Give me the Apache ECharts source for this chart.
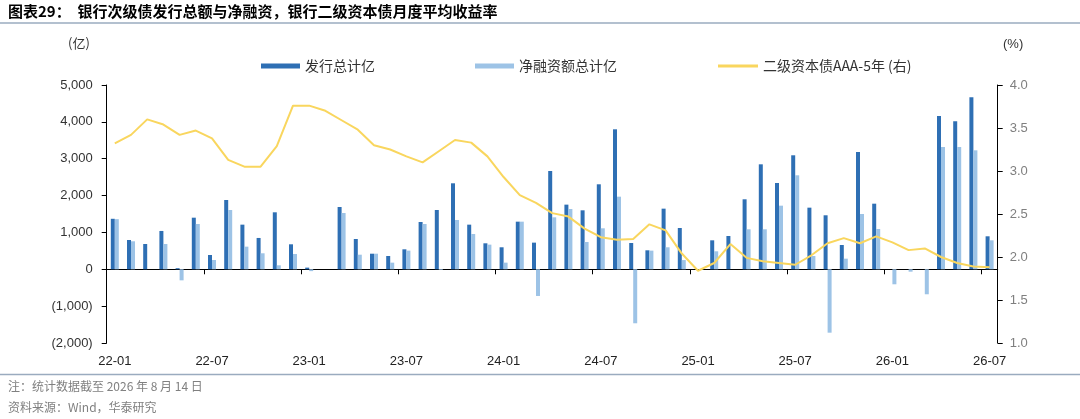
<!DOCTYPE html>
<html>
<head>
    <meta charset="utf-8">
    <title>银行次级债发行总额与净融资</title>
    <script src="https://cdn.jsdelivr.net/npm/echarts@6/dist/echarts.min.js"></script>
    <style>
        html, body { margin: 0; padding: 0; background: #fff; }
        #main { width: 1080px; height: 419px; }
    </style>
</head>
<body>
<div id="main"></div>
<script type="text/javascript">
// 月份
var months = [
    '22-01','22-02','22-03','22-04','22-05','22-06','22-07','22-08','22-09','22-10','22-11','22-12',
    '23-01','23-02','23-03','23-04','23-05','23-06','23-07','23-08','23-09','23-10','23-11','23-12',
    '24-01','24-02','24-03','24-04','24-05','24-06','24-07','24-08','24-09','24-10','24-11','24-12',
    '25-01','25-02','25-03','25-04','25-05','25-06','25-07','25-08','25-09','25-10','25-11','25-12',
    '26-01','26-02','26-03','26-04','26-05','26-06','26-07'
];
// 发行总计（亿）
var issue = [
    1370, 795, 686, 1040, 30, 1400, 388, 1880, 1211, 850, 1546, 678,
    45, 0, 1690, 822, 423, 361, 542, 1283, 1609, 2333, 1211, 705,
    597, 1292, 723, 2667, 1754, 1600, 2306, 3798, 714, 515, 1645, 1120,
    0, 786, 903, 1899, 2848, 2341, 3093, 1672, 1465, 659, 3182, 1780,
    0, 0, 0, 4159, 4015, 4666, 895
];
// 净融资额总计（亿）
var netFinance = [
    1360, 760, 0, 686, -300, 1229, 252, 1609, 614, 434, 108, 415,
    -50, 0, 1527, 396, 423, 180, 506, 1229, -20, 1337, 958, 669,
    180, 1292, -724, 1410, 1636, 741, 1112, 1970, -1465, 506, 597, 250,
    0, 488, 0, 1085, 1085, 1726, 2550, 361, -1720, 288, 1500, 1093,
    -407, -65, -678, 3318, 3318, 3228, 786
];
// 二级资本债AAA-5年收益率（%）
var yield5y = [
    3.32, 3.42, 3.60, 3.54, 3.42, 3.47, 3.38, 3.13, 3.05, 3.05, 3.29, 3.76,
    3.76, 3.70, 3.59, 3.48, 3.30, 3.25, 3.17, 3.10, 3.23, 3.36, 3.33, 3.17,
    2.93, 2.72, 2.63, 2.51, 2.47, 2.33, 2.23, 2.20, 2.21, 2.38, 2.31, 2.04,
    1.84, 1.93, 2.15, 1.99, 1.95, 1.93, 1.91, 2.02, 2.16, 2.22, 2.16, 2.24,
    2.17, 2.08, 2.10, 2.00, 1.93, 1.89, 1.88
];

var cjk = '"Noto Sans CJK SC", sans-serif';
var latin = '"Liberation Sans", Arial, sans-serif';

function fmtThousand(v) {
    return String(Math.abs(v)).replace(/\B(?=(\d{3})+(?!\d))/g, ',');
}

var myChart = echarts.init(document.getElementById('main'));

var option = {
    backgroundColor: '#fff',
    animation: false,
    graphic: [
        { type: 'text', left: 8, top: 4, style: { text: '图表29：  银行次级债发行总额与净融资，银行二级资本债月度平均收益率', font: 'bold 15px ' + cjk, fill: '#000' } },
        { type: 'line', shape: { x1: 0, y1: 23, x2: 1080, y2: 23 }, style: { stroke: '#9aabbf', lineWidth: 1.5 } },
        { type: 'text', left: 68, top: 37, style: { text: '(亿)', font: '13px ' + cjk, fill: '#333' } },
        { type: 'text', left: 1003, top: 38, style: { text: '(%)', font: '13px ' + latin, fill: '#333' } },
        { type: 'line', shape: { x1: 0, y1: 374.5, x2: 1080, y2: 374.5 }, style: { stroke: '#9aabbf', lineWidth: 1.5 } },
        { type: 'text', left: 8, top: 380, style: { text: '注：统计数据截至 2026 年 8 月 14 日', font: '12px ' + cjk, fill: '#808080' } },
        { type: 'text', left: 8, top: 401, style: { text: '资料来源：Wind，华泰研究', font: '12px ' + cjk, fill: '#808080' } }
    ],
    legend: [
        { left: 256, top: 54, itemWidth: 39, itemHeight: 5, icon: 'rect', itemGap: 6, data: ['发行总计亿'], textStyle: { fontFamily: cjk, fontSize: 14, color: '#333' } },
        { left: 470, top: 54, itemWidth: 39, itemHeight: 5, icon: 'rect', data: ['净融资额总计亿'], textStyle: { fontFamily: cjk, fontSize: 14, color: '#333' } },
        { left: 713, top: 54, itemWidth: 40, itemHeight: 3, icon: 'rect', data: ['二级资本债AAA-5年 (右)'], textStyle: { fontFamily: cjk, fontSize: 14, color: '#333' } }
    ],
    grid: { left: 106.7, right: 82.3, top: 85, bottom: 76, containLabel: false, outerBoundsMode: 'none' },
    xAxis: [
        {
            // 底部标签轴
            type: 'category',
            data: months,
            position: 'bottom',
            boundaryGap: true,
            axisLine: { show: false, onZero: false },
            axisTick: { show: false },
            axisLabel: { interval: 5, margin: 12, fontFamily: latin, fontSize: 13, color: '#222' },
            splitLine: { show: false }
        },
        {
            // 零线轴（刻度朝下）
            type: 'category',
            data: months,
            position: 'top',
            boundaryGap: true,
            axisLine: { show: true, onZero: true, onZeroAxisIndex: 0, lineStyle: { color: '#000', width: 1 } },
            axisTick: { show: true, inside: true, interval: 5, length: 5, lineStyle: { color: '#000' } },
            axisLabel: { show: false },
            splitLine: { show: false }
        }
    ],
    yAxis: [
        {
            type: 'value', min: -2000, max: 5000, interval: 1000,
            axisLine: { show: true, lineStyle: { color: '#000' } },
            axisTick: { show: true, length: 5, lineStyle: { color: '#000' } },
            axisLabel: {
                margin: 14, fontFamily: latin, fontSize: 13, color: '#333',
                formatter: function (v) { return v < 0 ? '(' + fmtThousand(v) + ')' : fmtThousand(v); }
            },
            splitLine: { show: false }
        },
        {
            type: 'value', min: 1.0, max: 4.0, interval: 0.5,
            axisLine: { show: true, lineStyle: { color: '#000' } },
            axisTick: { show: true, length: 5, lineStyle: { color: '#000' } },
            axisLabel: {
                margin: 12, fontFamily: latin, fontSize: 13, color: '#7f7f7f',
                formatter: function (v) { return v.toFixed(1); }
            },
            splitLine: { show: false }
        }
    ],
    series: [
        {
            name: '发行总计亿', type: 'bar', xAxisIndex: 0, yAxisIndex: 0,
            data: issue, barWidth: 4, barGap: '0%',
            itemStyle: { color: '#2e6fb4' }
        },
        {
            name: '净融资额总计亿', type: 'bar', xAxisIndex: 0, yAxisIndex: 0,
            data: netFinance, barWidth: 4, barGap: '0%',
            itemStyle: { color: '#9dc3e6' }
        },
        {
            name: '二级资本债AAA-5年 (右)', type: 'line', xAxisIndex: 0, yAxisIndex: 1,
            data: yield5y, symbol: 'none', smooth: false,
            lineStyle: { color: '#f9d65e', width: 2 },
            itemStyle: { color: '#f9d65e' },
            z: 3
        }
    ]
};

myChart.setOption(option);
</script>
</body>
</html>
